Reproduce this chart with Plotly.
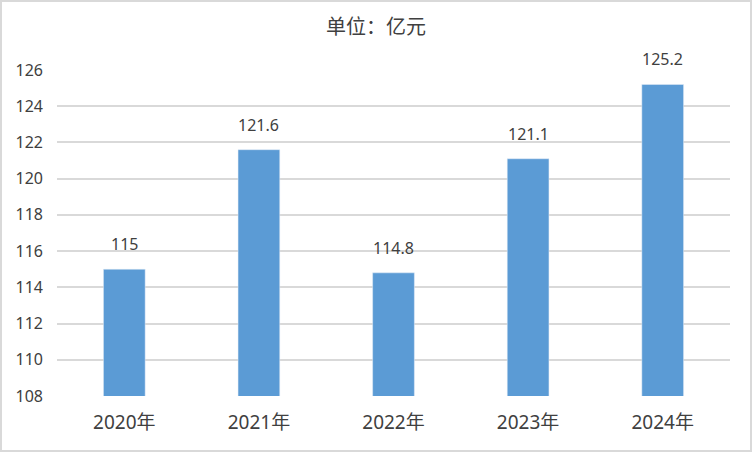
import plotly.graph_objects as go

categories = ["2020年", "2021年", "2022年", "2023年", "2024年"]
values = [115, 121.6, 114.8, 121.1, 125.2]
labels = ["115", "121.6", "114.8", "121.1", "125.2"]
y_ticks = [108, 110, 112, 114, 116, 118, 120, 122, 124, 126]

font_family = "Noto Sans, Noto Sans CJK SC, sans-serif"
cjk_family = "Noto Sans CJK SC, Noto Sans, sans-serif"
text_color = "#404040"

fig = go.Figure()
fig.add_trace(go.Bar(
    x=categories, y=values, marker_color="#5B9BD5", width=0.31,
    hoverinfo="skip",
))
for c, v, t in zip(categories, values, labels):
    fig.add_annotation(x=c, y=v, text=t, showarrow=False, yanchor="bottom",
                       yshift=12, font=dict(size=16, color=text_color, family=font_family))

fig.update_layout(
    width=752, height=452,
    margin=dict(l=57, r=22, t=70, b=56),
    paper_bgcolor="white", plot_bgcolor="white",
    showlegend=False,
    title=dict(text="单位：亿元", x=0.5, xanchor="center", y=0.94, yanchor="middle",
               font=dict(size=20, color=text_color, family=cjk_family)),
    xaxis=dict(showgrid=False, showline=False, ticks="",
               ticklabelstandoff=13,
               tickfont=dict(size=19, color=text_color, family=font_family)),
    yaxis=dict(range=[108, 126], tickvals=y_ticks, showgrid=True, gridcolor="#D9D9D9",
               gridwidth=1.5, zeroline=False, showline=False, ticks="",
               ticklabelstandoff=13,
               tickfont=dict(size=16, color=text_color, family=font_family)),
    shapes=[dict(type="rect", xref="paper", yref="paper", x0=-56/673, x1=1+21/673,
                 y0=-55/326, y1=1+69/326, line=dict(color="#D9D9D9", width=2))],
)
fig.write_html("out.html", config={"displayModeBar": False},
               post_script="document.body.style.margin='0';")
